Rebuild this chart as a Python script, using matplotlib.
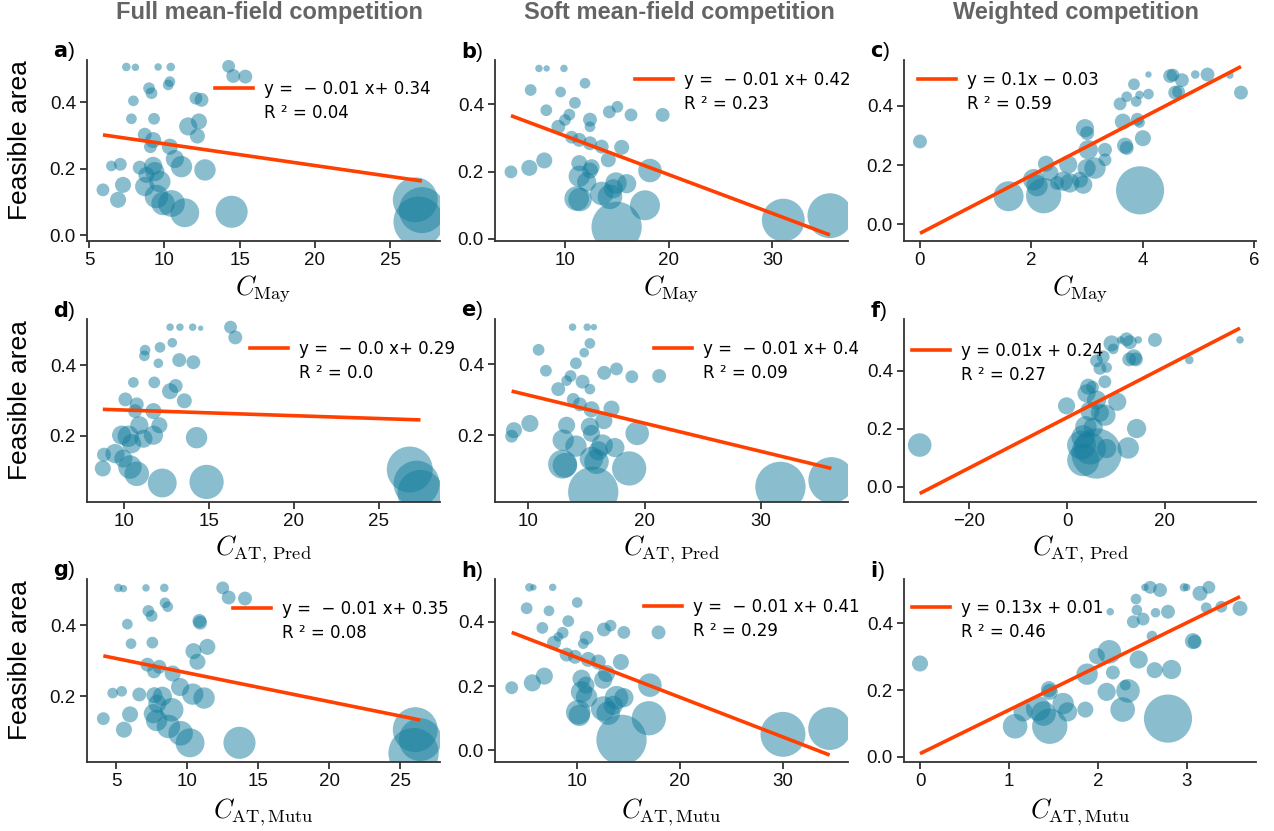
import numpy as np
import matplotlib.pyplot as plt
from matplotlib.lines import Line2D

plt.rcParams['font.family'] = ['Liberation Sans', 'DejaVu Sans']
plt.rcParams['mathtext.fontset'] = 'cm'

# column titles / axis labels
col_titles = ['Full mean-field competition', 'Soft mean-field competition', 'Weighted competition']
x_labels = [r'$C_{\mathrm{May}}$', r'$C_{\mathrm{AT,\,Pred}}$', r'$C_{\mathrm{AT,Mutu}}$']
panel_tags = ['a', 'b', 'c', 'd', 'e', 'f', 'g', 'h', 'i']

# ---- data: x, feasible area, bubble diameter (px) ----
a_x = [7.48, 8.08, 9.59, 10.43, 14.27, 14.58, 15.38, 10.37, 10.26, 8.99, 9.15, 7.95, 12.1, 12.47, 7.82, 9.32, 11.59, 12.3, 12.2, 8.7, 9.26, 9.08, 10.37, 10.7, 11.14, 12.7, 6.49, 7.08, 8.37, 9.26, 9.37, 8.81, 5.93, 7.26, 6.93, 8.7, 9.7, 9.48, 9.92, 10.48, 11.36, 14.47, 26.66, 27.1, 26.88]
a_y = [0.506, 0.505, 0.506, 0.506, 0.508, 0.479, 0.477, 0.462, 0.452, 0.442, 0.427, 0.404, 0.412, 0.407, 0.35, 0.35, 0.327, 0.342, 0.298, 0.302, 0.286, 0.266, 0.266, 0.229, 0.206, 0.196, 0.208, 0.213, 0.203, 0.208, 0.191, 0.181, 0.136, 0.151, 0.106, 0.146, 0.161, 0.116, 0.095, 0.095, 0.067, 0.07, 0.106, 0.075, 0.04]
a_d = [8, 7, 7, 8, 12, 13, 13, 10, 10, 11, 11, 10, 12, 13, 10, 11, 17, 15, 14, 13, 15, 12, 15, 17, 20, 20, 10, 12, 13, 17, 18, 15, 12, 15, 15, 18, 20, 22, 22, 25, 27, 30, 42, 43, 47]

b_x = [7.49, 8.23, 9.9, 11.93, 6.69, 9.58, 10.96, 8.2, 15.05, 14.28, 16.37, 19.42, 10.42, 10.0, 12.41, 12.41, 9.36, 10.64, 11.38, 12.41, 13.54, 15.47, 14.18, 8.0, 6.56, 4.79, 11.38, 12.57, 12.41, 18.2, 11.38, 12.09, 14.92, 15.95, 14.66, 11.13, 13.54, 14.34, 17.72, 14.98, 31.06, 35.56, 11.45]
b_y = [0.506, 0.506, 0.506, 0.462, 0.442, 0.436, 0.404, 0.382, 0.392, 0.377, 0.368, 0.368, 0.369, 0.353, 0.354, 0.333, 0.333, 0.302, 0.294, 0.284, 0.274, 0.272, 0.235, 0.233, 0.211, 0.199, 0.225, 0.213, 0.203, 0.203, 0.186, 0.169, 0.166, 0.164, 0.149, 0.12, 0.135, 0.125, 0.1, 0.036, 0.056, 0.069, 0.117]
b_d = [7, 6, 7, 10, 11, 10, 11, 11, 11, 12, 12, 13, 11, 11, 13, 10, 13, 12, 13, 13, 13, 14, 14, 15, 15, 12, 15, 15, 15, 22, 20, 18, 20, 18, 18, 23, 22, 23, 28, 47, 40, 42, 22]

c_x = [0, 1.59, 2.22, 3.95, 2.04, 2.1, 2.26, 2.34, 2.46, 2.57, 2.66, 2.69, 2.87, 2.93, 2.99, 3.14, 2.96, 3.0, 3.02, 3.32, 3.32, 3.64, 3.59, 3.71, 3.84, 3.88, 3.94, 4.1, 3.68, 3.71, 3.9, 3.94, 4.0, 4.1, 4.49, 4.54, 4.7, 4.58, 4.64, 4.94, 5.16, 5.56, 5.76]
c_y = [0.28, 0.095, 0.097, 0.115, 0.151, 0.131, 0.205, 0.174, 0.14, 0.146, 0.202, 0.14, 0.151, 0.134, 0.19, 0.19, 0.325, 0.308, 0.252, 0.252, 0.218, 0.347, 0.407, 0.431, 0.473, 0.415, 0.437, 0.44, 0.266, 0.258, 0.355, 0.344, 0.291, 0.506, 0.501, 0.504, 0.487, 0.445, 0.448, 0.506, 0.506, 0.504, 0.445]
c_d = [13, 28, 33, 45, 20, 20, 15, 15, 13, 18, 17, 18, 15, 17, 17, 20, 17, 13, 18, 13, 12, 15, 12, 10, 11, 10, 8, 10, 15, 13, 12, 10, 15, 6, 13, 12, 13, 13, 12, 8, 13, 7, 13]

d_x = [12.71, 13.29, 14.04, 14.51, 16.27, 16.55, 11.24, 11.2, 12.12, 12.84, 12.02, 13.25, 14.08, 10.55, 11.78, 13.04, 12.71, 13.55, 10.08, 10.75, 10.65, 11.73, 10.9, 12.08, 11.73, 9.86, 10.25, 11.14, 10.45, 14.27, 8.82, 9.47, 9.96, 8.75, 10.35, 10.75, 12.25, 14.86, 26.82, 27.22, 27.45]
d_y = [0.507, 0.507, 0.507, 0.504, 0.507, 0.478, 0.442, 0.426, 0.45, 0.463, 0.405, 0.414, 0.408, 0.351, 0.351, 0.341, 0.326, 0.299, 0.303, 0.289, 0.27, 0.27, 0.23, 0.23, 0.202, 0.202, 0.199, 0.192, 0.178, 0.195, 0.147, 0.15, 0.136, 0.108, 0.112, 0.093, 0.067, 0.07, 0.105, 0.065, 0.039]
d_d = [7, 7, 7, 5, 12, 13, 10, 10, 10, 9, 9, 13, 13, 10, 11, 13, 15, 14, 13, 13, 13, 15, 17, 15, 18, 18, 20, 17, 18, 20, 13, 18, 17, 15, 22, 23, 27, 32, 43, 43, 43]

e_x = [13.81, 15.07, 15.64, 15.3, 14.81, 10.89, 14.1, 11.52, 16.53, 17.59, 18.91, 21.26, 13.64, 13.3, 14.67, 15.3, 12.58, 13.87, 14.44, 15.44, 17.16, 16.5, 10.14, 8.77, 8.57, 13.3, 15.3, 15.44, 19.37, 13.01, 14.1, 16.36, 17.45, 16.02, 12.95, 15.44, 15.87, 18.68, 15.59, 31.69, 36.07, 13.15]
e_y = [0.505, 0.505, 0.505, 0.459, 0.433, 0.441, 0.403, 0.382, 0.376, 0.387, 0.365, 0.367, 0.367, 0.354, 0.351, 0.33, 0.33, 0.301, 0.287, 0.273, 0.275, 0.241, 0.233, 0.214, 0.197, 0.228, 0.224, 0.205, 0.205, 0.186, 0.169, 0.172, 0.165, 0.156, 0.118, 0.134, 0.125, 0.106, 0.04, 0.054, 0.073, 0.115]
e_d = [7, 7, 6, 10, 9, 11, 11, 11, 13, 12, 12, 13, 11, 10, 13, 10, 13, 12, 13, 15, 15, 16, 16, 15, 12, 16, 17, 16, 22, 20, 20, 20, 18, 18, 27, 22, 23, 32, 47, 47, 43, 23]

f_x = [-30.09, -0.1, 4.33, 5.21, 3.99, 6.03, 10.26, 7.73, 4.67, 6.71, 7.73, 3.85, 5.35, 14.21, 3.31, 2.96, 4.67, 8.08, 12.5, 3.31, 6.03, 6.03, 7.39, 8.08, 6.71, 9.09, 9.43, 10.94, 12.16, 12.84, 14.55, 17.96, 12.71, 13.66, 14.07, 24.98, 35.33]
f_y = [0.144, 0.279, 0.345, 0.343, 0.322, 0.299, 0.293, 0.362, 0.261, 0.255, 0.247, 0.207, 0.205, 0.201, 0.172, 0.144, 0.132, 0.132, 0.134, 0.092, 0.115, 0.434, 0.448, 0.411, 0.408, 0.494, 0.475, 0.506, 0.508, 0.498, 0.506, 0.506, 0.439, 0.446, 0.439, 0.437, 0.506]
f_d = [22, 16, 15, 12, 17, 18, 17, 12, 18, 17, 20, 20, 18, 18, 22, 27, 30, 18, 20, 30, 47, 12, 12, 10, 12, 15, 10, 7, 13, 13, 7, 13, 13, 15, 13, 8, 7]

g_x = [5.16, 5.52, 7.11, 8.4, 12.51, 12.93, 14.08, 8.45, 8.64, 7.28, 7.51, 5.8, 10.87, 10.92, 6.06, 7.56, 10.45, 11.43, 10.73, 7.21, 8.05, 7.68, 8.99, 9.51, 10.4, 11.2, 4.77, 5.4, 6.64, 7.7, 8.26, 7.91, 4.11, 5.99, 5.56, 7.63, 8.92, 7.86, 8.69, 9.55, 10.21, 13.69, 26.06, 26.41, 25.94]
g_y = [0.505, 0.503, 0.505, 0.505, 0.505, 0.478, 0.475, 0.463, 0.452, 0.44, 0.426, 0.403, 0.412, 0.407, 0.348, 0.351, 0.327, 0.339, 0.297, 0.289, 0.283, 0.27, 0.264, 0.226, 0.206, 0.195, 0.209, 0.214, 0.205, 0.203, 0.2, 0.179, 0.137, 0.149, 0.106, 0.151, 0.162, 0.132, 0.115, 0.096, 0.069, 0.069, 0.106, 0.078, 0.04]
g_d = [8, 7, 7, 8, 12, 13, 13, 10, 10, 11, 11, 10, 13, 13, 10, 11, 15, 15, 15, 13, 13, 13, 15, 17, 20, 20, 10, 10, 13, 15, 18, 17, 12, 15, 15, 18, 22, 20, 22, 23, 27, 30, 42, 40, 47]

h_x = [5.42, 5.81, 7.68, 10.06, 5.16, 7.32, 9.19, 6.68, 13.29, 12.65, 14.58, 17.94, 8.65, 8.23, 10.97, 10.65, 7.81, 9.03, 9.84, 11.13, 12.1, 14.29, 12.9, 6.87, 5.71, 3.71, 10.48, 10.9, 12.58, 17.1, 10.48, 10.97, 13.87, 14.58, 13.55, 10.16, 12.58, 13.06, 17.0, 14.35, 30.0, 34.52, 10.26]
h_y = [0.507, 0.507, 0.507, 0.46, 0.442, 0.434, 0.402, 0.381, 0.388, 0.376, 0.367, 0.367, 0.366, 0.353, 0.35, 0.332, 0.335, 0.298, 0.291, 0.283, 0.275, 0.275, 0.239, 0.231, 0.21, 0.195, 0.223, 0.203, 0.22, 0.203, 0.182, 0.166, 0.164, 0.164, 0.14, 0.119, 0.13, 0.116, 0.1, 0.033, 0.05, 0.068, 0.109]
h_d = [8, 6, 7, 10, 11, 10, 11, 11, 11, 13, 12, 13, 11, 9, 13, 10, 13, 13, 13, 14, 14, 15, 16, 16, 16, 12, 17, 16, 17, 22, 20, 20, 22, 18, 18, 23, 23, 22, 32, 47, 42, 40, 20]

i_x = [0, 1.07, 1.46, 2.79, 1.16, 1.33, 1.39, 1.45, 1.46, 1.61, 1.66, 1.86, 1.88, 1.99, 2.13, 2.1, 2.17, 2.28, 2.34, 2.31, 2.46, 2.64, 2.83, 2.61, 2.4, 2.51, 2.44, 2.43, 2.14, 2.65, 2.79, 2.53, 2.59, 2.7, 2.97, 3.0, 3.15, 3.25, 3.22, 3.39, 3.6, 3.07, 3.09]
i_y = [0.28, 0.092, 0.092, 0.115, 0.135, 0.145, 0.13, 0.203, 0.195, 0.16, 0.135, 0.142, 0.248, 0.302, 0.315, 0.195, 0.253, 0.142, 0.198, 0.215, 0.292, 0.26, 0.262, 0.362, 0.405, 0.413, 0.44, 0.473, 0.435, 0.432, 0.435, 0.508, 0.508, 0.5, 0.508, 0.508, 0.49, 0.508, 0.447, 0.45, 0.445, 0.347, 0.345]
i_d = [15, 23, 33, 45, 18, 23, 23, 15, 15, 20, 18, 15, 20, 15, 22, 17, 13, 23, 22, 10, 17, 15, 18, 10, 12, 12, 10, 10, 7, 9, 13, 7, 12, 13, 8, 7, 14, 12, 10, 11, 14, 15, 13]

# linear fits shown in each panel
slopes = [-0.00656, -0.0115, 0.0977, -0.0016, -0.00794, 0.0087, -0.0081, -0.01238, 0.1306]
intercepts = [0.3404, 0.421, -0.03, 0.289, 0.3925, 0.239, 0.347, 0.413, 0.01]
eq_labels = ['y =  \u2212 0.01 x+ 0.34', 'y =  \u2212 0.01 x+ 0.42', 'y = 0.1x \u2212 0.03',
             'y =  \u2212 0.0 x+ 0.29', 'y =  \u2212 0.01 x+ 0.4', 'y = 0.01x + 0.24',
             'y =  \u2212 0.01 x+ 0.35', 'y =  \u2212 0.01 x+ 0.41', 'y = 0.13x + 0.01']
r2_labels = ['0.04', '0.23', '0.59', '0.0', '0.09', '0.27', '0.08', '0.29', '0.46']

panels = [(a_x, a_y, a_d), (b_x, b_y, b_d), (c_x, c_y, c_d),
          (d_x, d_y, d_d), (e_x, e_y, e_d), (f_x, f_y, f_d),
          (g_x, g_y, g_d), (h_x, h_y, h_d), (i_x, i_y, i_d)]

# axis limits per panel
xlims = [(4.87, 28.3), (3.25, 37.3), (-0.287, 6.03),
         (7.82, 28.6), (7.14, 37.5), (-33.3, 38.6),
         (2.96, 27.8), (2.09, 36.3), (-0.18, 3.78)]
ylims = [(-0.018, 0.527), (-0.006, 0.531), (-0.056, 0.555),
         (0.0133, 0.530), (0.0113, 0.528), (-0.052, 0.578),
         (0.015, 0.530), (-0.036, 0.533), (-0.015, 0.533)]
# legend anchor (axes fraction)
leg_pos = [(0.363, 0.889), (0.397, 0.939), (0.040, 0.939),
           (0.462, 0.885), (0.450, 0.885), (0.023, 0.874),
           (0.414, 0.885), (0.422, 0.896), (0.023, 0.891)]

teal = '#167e9e'
red = '#ff4000'
spine_col = '#333333'

W, H = 1274, 831
fig = plt.figure(figsize=(W / 100, H / 100), dpi=100)
col_l = [87, 495, 904]
col_r = [440, 848, 1256]
row_t = [60, 319, 579]
row_b = [241, 502, 762]

for k, (px, py, pd) in enumerate(panels):
    r, c = divmod(k, 3)
    ax = fig.add_axes([col_l[c] / W, 1 - row_b[r] / H,
                       (col_r[c] - col_l[c]) / W, (row_b[r] - row_t[r]) / H])
    # diameter in px -> marker area in pt^2
    sizes = (np.array(pd) * 1.07 * 0.72) ** 2
    ax.scatter(px, py, s=sizes, color=teal, alpha=0.5, edgecolors='none', zorder=2)

    xs = np.array([min(px), max(px)])
    ax.plot(xs, slopes[k] * xs + intercepts[k], color=red, lw=2.6, zorder=3,
            solid_capstyle='butt')

    ax.set_xlim(*xlims[k])
    ax.set_ylim(*ylims[k])
    ax.set_yticks([t for t in [0.0, 0.2, 0.4] if ylims[k][0] <= t <= ylims[k][1]])
    ax.yaxis.set_major_formatter(plt.FormatStrFormatter('%.1f'))

    for s in ['top', 'right']:
        ax.spines[s].set_visible(False)
    for s in ['left', 'bottom']:
        ax.spines[s].set_color(spine_col)
        ax.spines[s].set_linewidth(1.3)
    ax.tick_params(direction='out', length=5, width=1.3, color=spine_col,
                   labelsize=13.5, labelcolor='#111111', pad=3)

    ax.set_xlabel(x_labels[r], fontsize=19, labelpad=2.5 if r < 2 else 5)
    if c == 0:
        ax.set_ylabel('Feasible area', fontsize=19)
        ax.yaxis.set_label_coords(-0.156, 0.555)

    ax.text(-0.096, 1.045, r'$\mathbf{' + panel_tags[k] + '}$)', transform=ax.transAxes,
            fontsize=15, ha='left', va='center',
            math_fontfamily='dejavusans')

    handles = [Line2D([], [], color=red, lw=2.6), Line2D([], [], color='none')]
    labels = [eq_labels[k], 'R \u00b2 = ' + r2_labels[k]]
    ax.legend(handles, labels, loc='upper left', bbox_to_anchor=leg_pos[k],
              frameon=False, borderpad=0, borderaxespad=0, handlelength=2.3,
              handletextpad=0.65, labelspacing=0.35,
              prop={'family': 'DejaVu Sans', 'size': 12})

title_x = [270, 679, 1076]
for c in range(3):
    fig.text(title_x[c] / W, 1 - 12 / H, col_titles[c], ha='center', va='center',
             fontsize=17, fontweight='bold', color='#646464')

fig.savefig('out.png', dpi=100)
